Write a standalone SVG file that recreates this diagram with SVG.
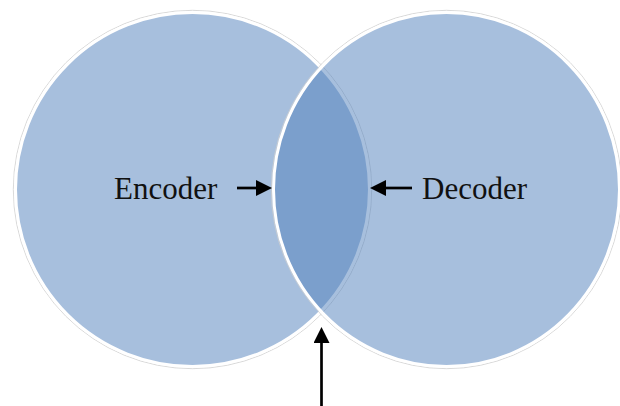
<svg xmlns="http://www.w3.org/2000/svg" width="620" height="406" viewBox="0 0 620 406">
  <style>
    .halo { fill: none; stroke: #cfcfcf; stroke-width: 0.8; }
    .label { font-family: "Liberation Serif", "Times New Roman", serif; font-size: 31px; fill: #111111; }
    .conn { stroke: #000000; stroke-width: 2.7; fill: none; }
  </style>
  <defs>
    <marker id="head" markerUnits="userSpaceOnUse" markerWidth="16" markerHeight="16" viewBox="0 0 16 16" refX="6" refY="8" orient="auto">
      <path d="M0,0 L16,8 L0,16 z" fill="#000000"/>
    </marker>
  </defs>
  <rect width="620" height="406" fill="#ffffff"/>
  <g id="encoder">
    <circle class="halo" cx="192.5" cy="189.5" r="179.2"/>
    <circle cx="192.5" cy="189.5" r="177" fill="#A7BFDD" stroke="#ffffff" stroke-width="3"/>
    <text class="label" x="114" y="199">Encoder</text>
  </g>
  <g id="decoder">
    <ellipse class="halo" cx="446.5" cy="189.5" rx="175.2" ry="179.2"/>
    <ellipse cx="446.5" cy="189.5" rx="173" ry="177" fill="rgb(79,127,187)" fill-opacity="0.5" stroke="#ffffff" stroke-width="3"/>
    <text class="label" x="422" y="199">Decoder</text>
  </g>
  <g id="connectors">
    <line class="conn" x1="237" y1="188" x2="262" y2="188" marker-end="url(#head)"/>
    <line class="conn" x1="412" y1="188" x2="380" y2="188" marker-end="url(#head)"/>
    <line class="conn" x1="321.5" y1="406" x2="321.5" y2="337" marker-end="url(#head)"/>
  </g>
</svg>
